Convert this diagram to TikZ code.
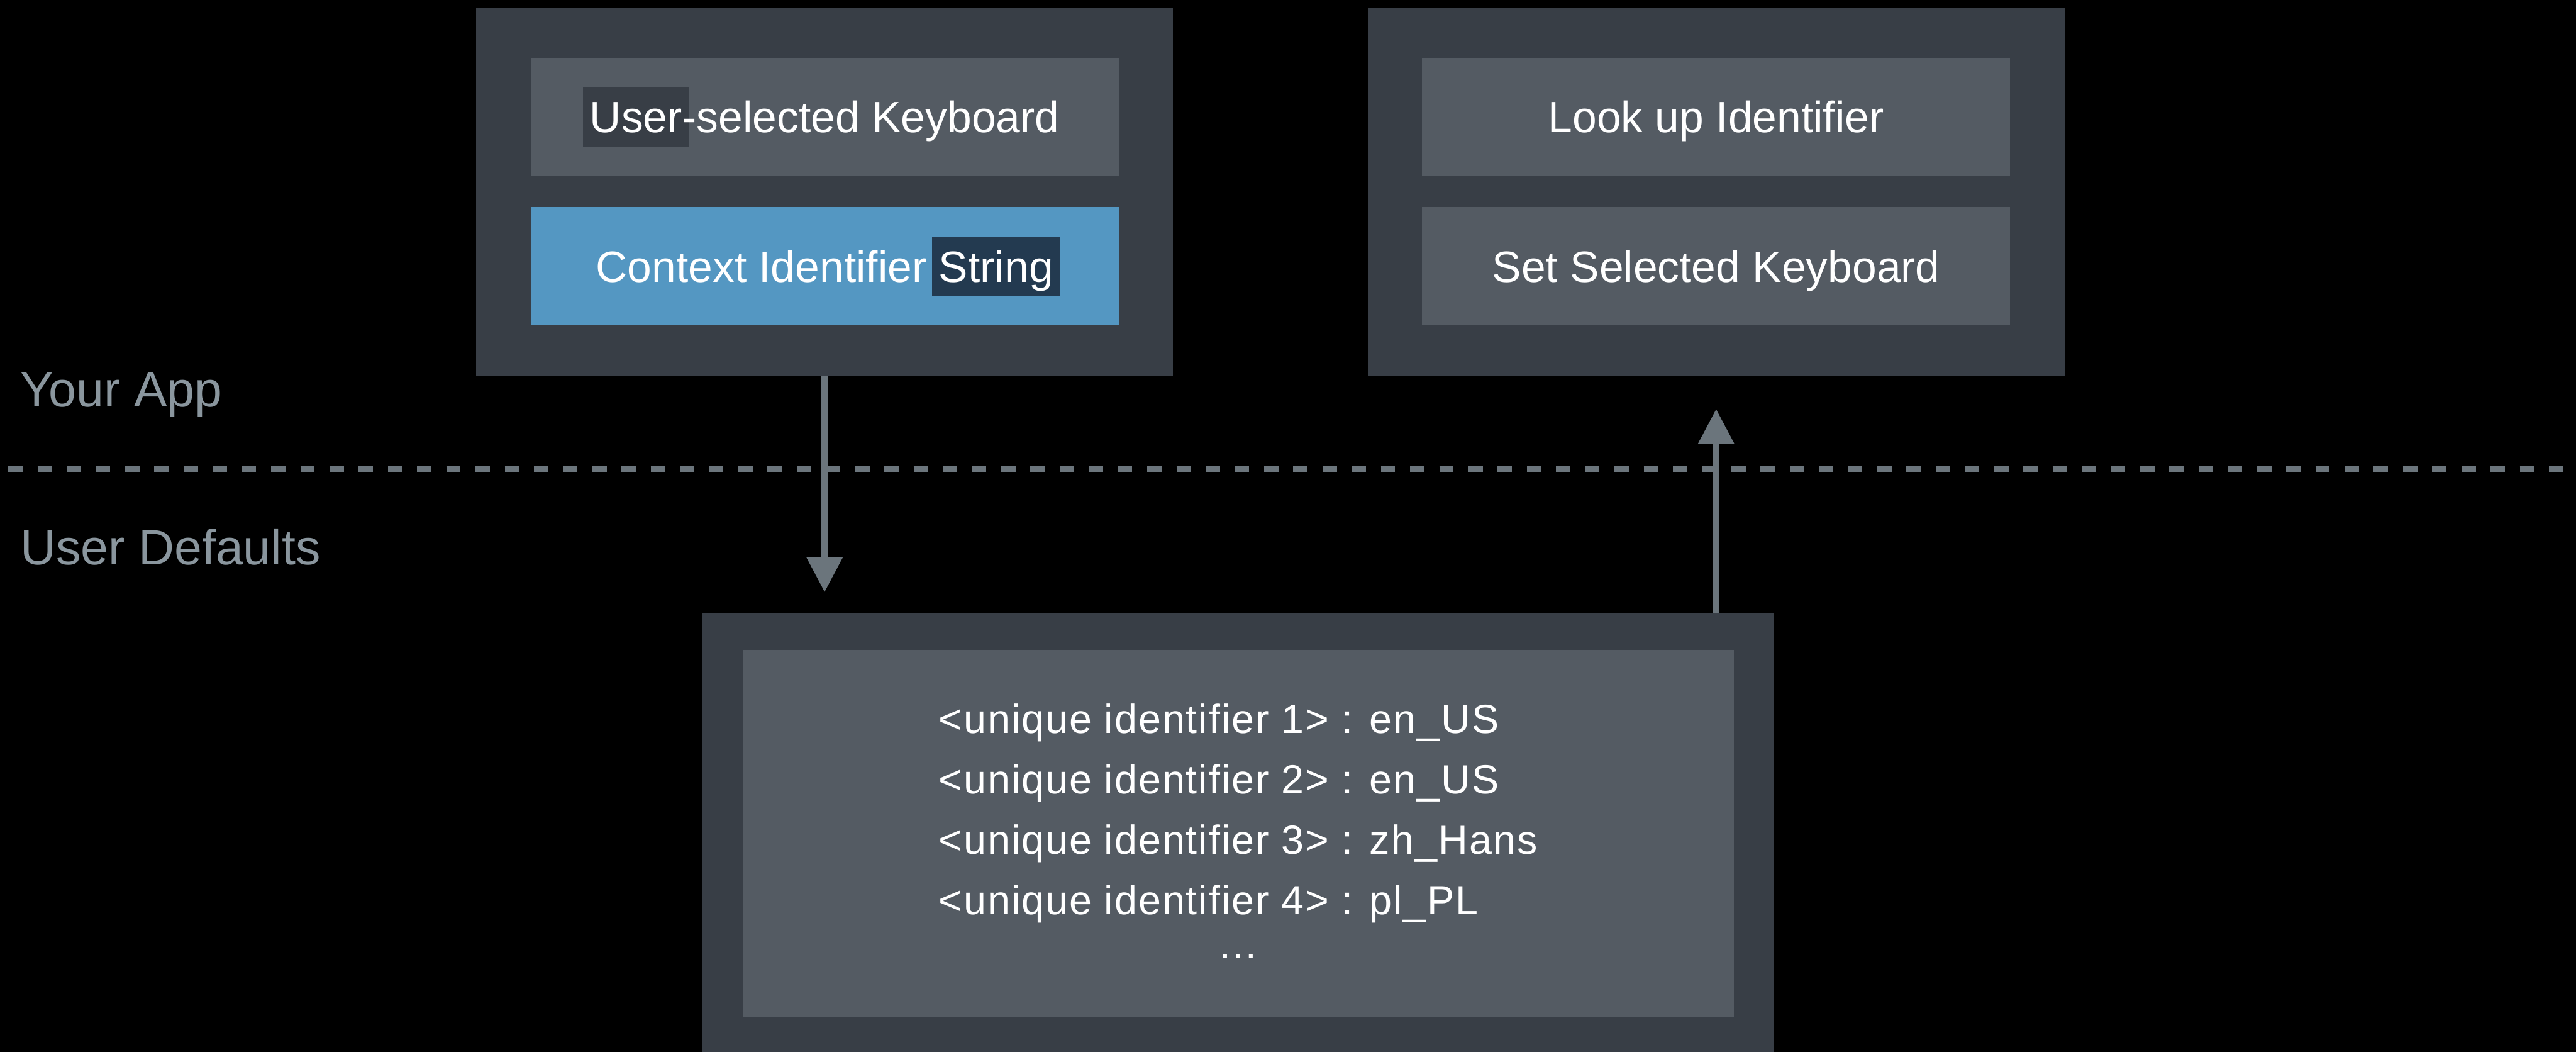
\documentclass[tikz,border=0pt]{standalone}
\usepackage{fontspec}
\setmainfont{Liberation Sans}
\usetikzlibrary{positioning,arrows.meta}

\definecolor{boxdark}{RGB}{56,62,70}
\definecolor{boxgray}{RGB}{84,91,99}
\definecolor{boxblue}{RGB}{84,151,194}
\definecolor{hlnavy}{RGB}{35,58,80}
\definecolor{linegray}{RGB}{107,117,124}
\definecolor{labelgray}{RGB}{138,150,158}

% selection mark behind a word, takes no width
\newcommand{\hilite}[2]{\makebox[0pt][l]{\hspace{-0.12cm}{\setlength{\fboxsep}{0pt}\colorbox{#1}{\rule[-0.25cm]{0pt}{1.07cm}\hspace{0.12cm}\phantom{#2}\hspace{0.12cm}}}}#2}

\begin{document}
\begin{tikzpicture}[outer/.style={fill=boxdark,minimum width=12.65cm,minimum height=6.67cm,inner sep=0pt},
  item/.style={fill=boxgray,text=white,minimum width=10.67cm,minimum height=2.14cm,inner sep=0pt,text height=0.57cm,text depth=0pt,font=\fontsize{22.6}{27}\selectfont},
  store/.style={fill=boxgray,text=white,minimum width=17.99cm,minimum height=6.67cm,inner sep=0pt,font=\fontsize{21}{31.2}\selectfont\addfontfeature{LetterSpace=3}},
  lane/.style={text=labelgray,anchor=base west,inner sep=0pt,font=\fontsize{25.6}{30}\selectfont},
  flow/.style={-{Triangle[width=0.62cm,length=0.63cm]},line width=0.13cm,draw=linegray},
  divider/.style={draw=linegray,line width=0.11cm,dash pattern=on 0.26cm off 0.27cm}]

  \fill[black] (0,0) rectangle (46.75,-19.08);
  \useasboundingbox (0,0) rectangle (46.75,-19.08);

  \node[lane] (app) at (0.36,-7.38) {Your App};
  \node[lane] (defaults) at (0.36,-10.24) {User Defaults};
  \draw[divider] (0.15,-8.51) -- (46.75,-8.51);

  \node[outer] (1) at (14.965,-3.475) {};
  \node[outer] (2) [right of=1, node distance=16.18cm] {};
  \node[item] (3) [above of=1, node distance=1.355cm] {\hilite{boxdark}{User}-selected Keyboard};
  \node[item,fill=boxblue] (4) [below of=1, node distance=1.355cm] {Context Identifier \hilite{hlnavy}{String}};
  \node[item] (5) [above of=2, node distance=1.355cm] {Look up Identifier};
  \node[item] (6) [below of=2, node distance=1.355cm] {Set Selected Keyboard};

  \node[outer,minimum width=19.46cm,minimum height=7.99cm] (7) at (22.47,-15.125) {};
  \node[store] (8) at (7) {\begin{tabular}{@{}l@{}}
    <unique identifier 1> : en\_US\\
    <unique identifier 2> : en\_US\\
    <unique identifier 3> : zh\_Hans\\
    <unique identifier 4> : pl\_PL\\[-0.3cm]
    \multicolumn{1}{@{}c@{}}{…}
  \end{tabular}};

  \draw[flow] (1.south) -- ([yshift=0.38cm]1.south |- 7.north);
  \draw[flow] (2.south |- 7.north) -- ([yshift=-0.6cm]2.south);
\end{tikzpicture}
\end{document}
